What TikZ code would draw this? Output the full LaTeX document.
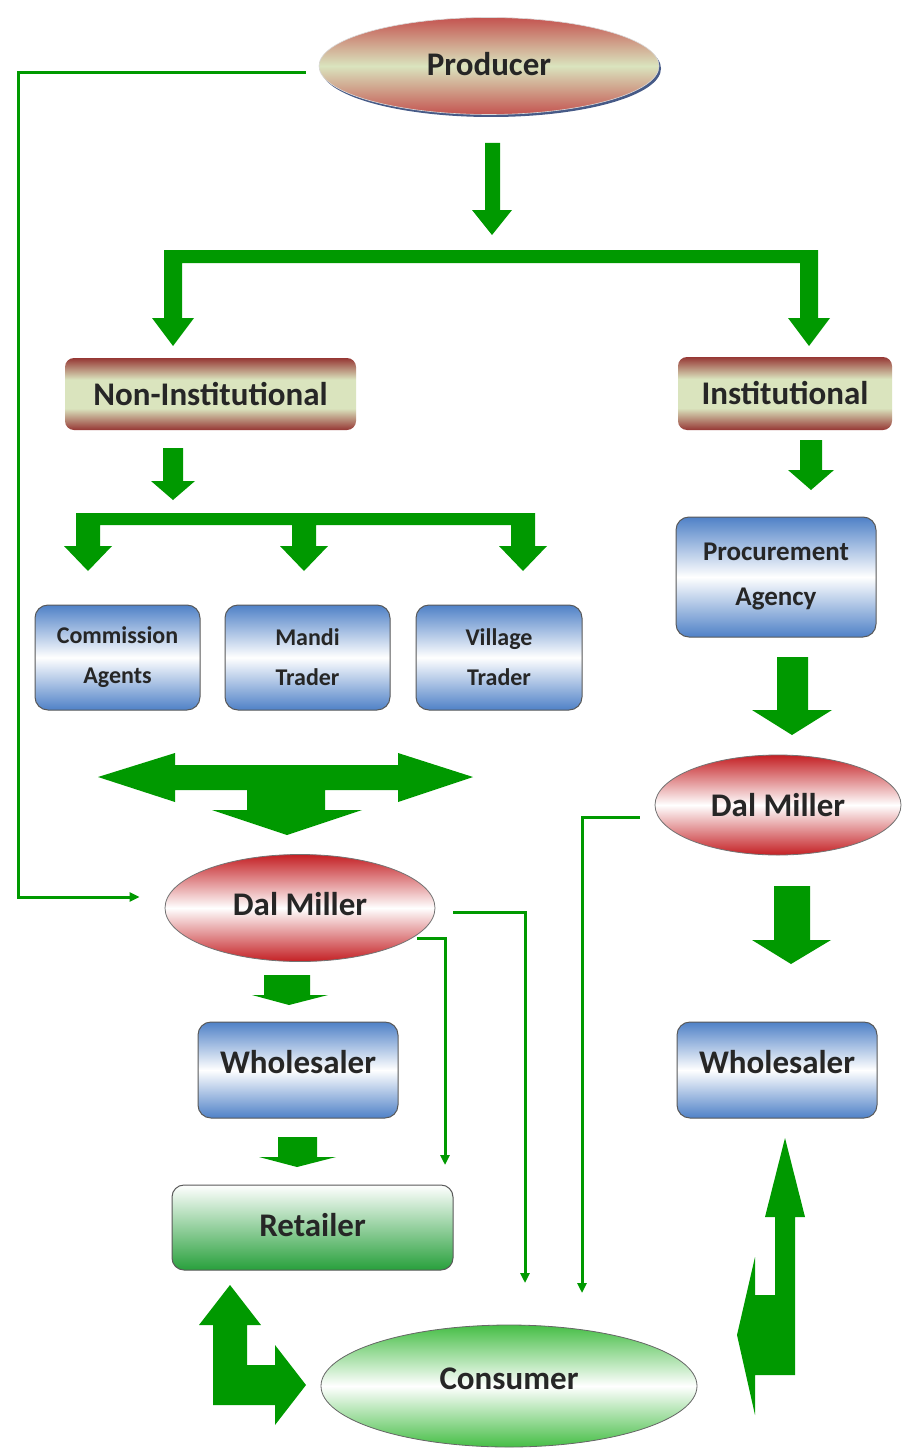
\documentclass[tikz,border=0pt]{standalone}
\usepackage{fontspec}
\setmainfont{Carlito}
\usetikzlibrary{shapes.geometric,arrows.meta}
\definecolor{agreen}{RGB}{0,153,0}
\definecolor{brick}{RGB}{150,55,52}
\definecolor{paleg}{RGB}{218,228,190}
\definecolor{rose}{RGB}{196,84,80}
\definecolor{sblue}{RGB}{79,129,199}
\definecolor{mred}{RGB}{196,32,36}
\definecolor{cgreen}{RGB}{70,190,70}
\definecolor{rgreen}{RGB}{40,160,60}
\definecolor{shblue}{RGB}{70,90,135}
\pgfdeclareverticalshading{redband}{100bp}{color(0bp)=(brick); color(25bp)=(brick); color(40bp)=(paleg); color(60bp)=(paleg); color(75bp)=(brick); color(100bp)=(brick)}
\begin{document}
\begin{tikzpicture}[x=1pt,y=-1pt,
  bigtxt/.style={font=\fontsize{33}{36}\selectfont\bfseries, text=black!85},
  smtxt/.style={font=\fontsize{24}{40}\selectfont\bfseries, align=center, text=black!85},
  raise/.style={text depth=#1},
  redbox/.style={shading=redband, rounded corners=9pt, inner sep=0pt, bigtxt},
  bluebox/.style={draw=black!65, line width=1pt, rounded corners=13pt, top color=sblue, bottom color=sblue, middle color=white, inner sep=0pt},
  redell/.style={ellipse, draw=black!55, line width=0.8pt, top color=mred, bottom color=mred, middle color=white, inner sep=0pt, bigtxt},
  flow/.style={draw=agreen, line width=3pt, -{Triangle[length=10pt,width=9pt]}},
  blockarrow/.style={fill=agreen}
]
\useasboundingbox (0,0) rectangle (902,1450);
\fill[white] (0,0) rectangle (902,1450);

% ---------- nodes ----------
\node[ellipse, fill=shblue, minimum width=340pt, minimum height=97pt, inner sep=0pt] (prodshadow) at (491,68.5) {};
\node[ellipse, draw=black!15, line width=0.6pt, top color=rose, bottom color=rose, middle color=paleg, minimum width=340pt, minimum height=97pt, inner sep=0pt, bigtxt, raise=4pt] (prod) at (489,66) {Producer};

\node[redbox, minimum width=291pt, minimum height=72pt] (noninst) at (210.5,394) {Non-Institutional};
\node[redbox, minimum width=214pt, minimum height=73pt] (inst) at (785,393.5) {Institutional};

\node[bluebox, smtxt, minimum width=165pt, minimum height=105pt] (comm) at (117.5,657.5) {Commission\\Agents};
\node[bluebox, smtxt, minimum width=165pt, minimum height=105pt] (mandi) at (307.5,657.5) {Mandi\\Trader};
\node[bluebox, smtxt, minimum width=166pt, minimum height=105pt] (village) at (499,657.5) {Village\\Trader};

\node[bluebox, smtxt, font=\fontsize{27}{45}\selectfont\bfseries, minimum width=200pt, minimum height=120pt] (proc) at (776,577) {Procurement\\Agency};

\node[redell, minimum width=246pt, minimum height=100pt] (dmR) at (778,805) {Dal Miller};
\node[redell, minimum width=270pt, minimum height=107pt, raise=8pt] (dmL) at (300,908) {Dal Miller};

\node[bluebox, bigtxt, raise=16pt, minimum width=200pt, minimum height=96pt] (wsL) at (298,1070) {Wholesaler};
\node[bluebox, bigtxt, raise=16pt, minimum width=200pt, minimum height=96pt] (wsR) at (777,1070) {Wholesaler};

\node[draw=black!65, line width=1pt, rounded corners=12pt, top color=white, bottom color=rgreen, inner sep=0pt, bigtxt, raise=6pt, minimum width=281pt, minimum height=85pt] (ret) at (312.5,1227.5) {Retailer};

\node[ellipse, draw=black!60, line width=0.8pt, top color=cgreen, bottom color=cgreen, middle color=white, inner sep=0pt, bigtxt, raise=15pt, minimum width=376pt, minimum height=122pt] (cons) at (509,1386) {Consumer};

% ---------- block arrows ----------
% Producer down
\fill[blockarrow] (485,143) -- (500,143) -- (500,210) -- (512,210) -- (492,235) -- (472,210) -- (485,210) -- cycle;
% bracket 1
\fill[blockarrow] (164,250) -- (818,250) -- (818,318) -- (830,318) -- (809,346) -- (788,318) -- (800,318) -- (800,263) -- (182,263) -- (182,318) -- (194,318) -- (173,346) -- (152,318) -- (164,318) -- cycle;
% Non-Institutional down
\fill[blockarrow] (163,448) -- (183,448) -- (183,481) -- (195,481) -- (173,500) -- (151,481) -- (163,481) -- cycle;
% bracket 2
\fill[blockarrow] (76,513) -- (535,513) -- (535,546) -- (547,546) -- (523,571) -- (499,546) -- (511,546) -- (511,525) -- (316,525) -- (316,546) -- (328,546) -- (304,571) -- (280,546) -- (292,546) -- (292,525) -- (100,525) -- (100,546) -- (112,546) -- (88,571) -- (64,546) -- (76,546) -- cycle;
% Institutional down
\fill[blockarrow] (800,440) -- (822,440) -- (822,470) -- (834,470) -- (811,490) -- (788,470) -- (800,470) -- cycle;
% Procurement -> Dal Miller
\fill[blockarrow] (777,657) -- (808,657) -- (808,710) -- (832,710) -- (792,735) -- (752,710) -- (777,710) -- cycle;
% Dal Miller R -> Wholesaler R
\fill[blockarrow] (774,886) -- (810,886) -- (810,940) -- (831,940) -- (791,964) -- (752,940) -- (774,940) -- cycle;
% big double arrow
\fill[blockarrow] (98,777) -- (175,753) -- (175,765) -- (398,765) -- (398,753) -- (473,777) -- (398,802) -- (398,790) -- (325,790) -- (325,810) -- (362,810) -- (287,835) -- (212,810) -- (247,810) -- (247,790) -- (175,790) -- (175,802) -- cycle;
% Dal Miller L -> Wholesaler L
\fill[blockarrow] (264,975) -- (310,975) -- (310,995) -- (328,995) -- (289,1005) -- (252,995) -- (264,995) -- cycle;
% Wholesaler L -> Retailer
\fill[blockarrow] (278,1137) -- (317,1137) -- (317,1157) -- (336,1157) -- (297,1167) -- (259,1157) -- (278,1157) -- cycle;
% Retailer <-> Consumer bent arrow
\fill[blockarrow] (230,1285) -- (261,1325) -- (247,1325) -- (247,1365) -- (275,1365) -- (275,1345) -- (306,1385) -- (275,1425) -- (275,1405) -- (213,1405) -- (213,1325) -- (199,1325) -- cycle;
% Consumer <-> Wholesaler R bent arrow
\fill[blockarrow] (785,1138) -- (805,1217) -- (795,1217) -- (795,1375) -- (755,1375) -- (755,1415) -- (737,1335) -- (755,1257) -- (755,1295) -- (775,1295) -- (775,1217) -- (765,1217) -- cycle;

% ---------- thin connectors ----------
\coordinate (endA) at (525,1283);
\coordinate (endB) at (445,1165);
\coordinate (endC) at (582,1293);
\draw[flow] ([xshift=-13pt,yshift=-7pt]prod.west) -- ++(-287,0) |- ([xshift=-25pt,yshift=11pt]dmL.west);
\draw[flow] ([xshift=18pt,yshift=-4pt]dmL.east) -| (endA);
\draw[flow] ([xshift=5pt]dmL.-15) -| (endB);
\draw[flow] ([xshift=-15pt,yshift=-12pt]dmR.west) -| (endC);
\end{tikzpicture}
\end{document}
